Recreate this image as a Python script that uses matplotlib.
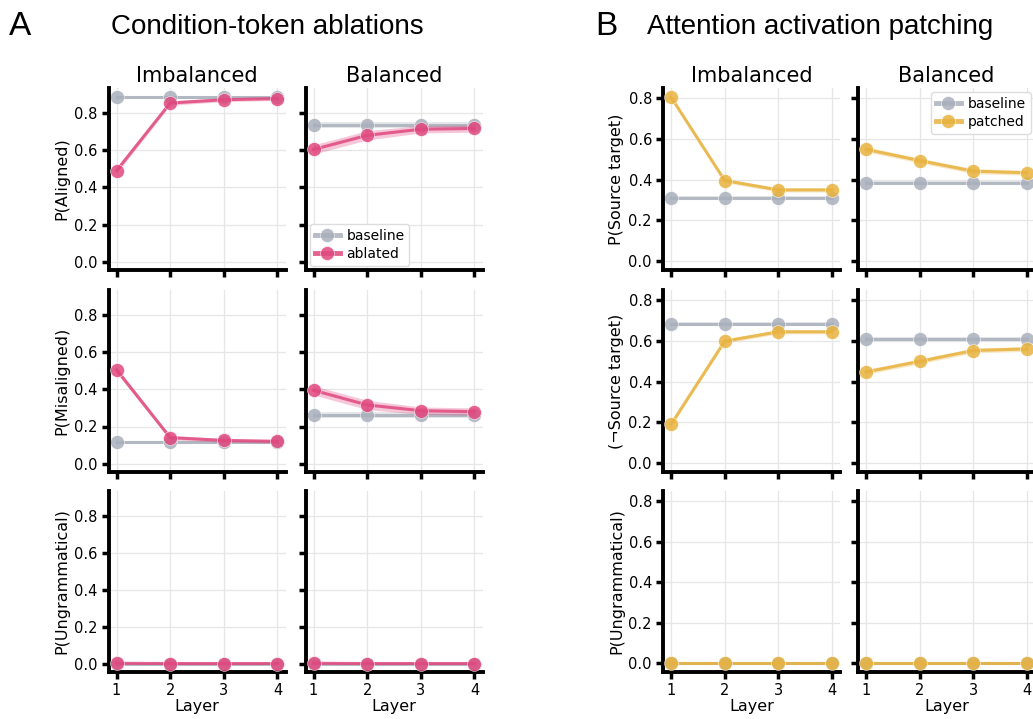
import numpy as np
import matplotlib
matplotlib.use("Agg")
import matplotlib.pyplot as plt
from matplotlib.lines import Line2D

W, H = 1033, 719

layers = [1, 2, 3, 4]
conditions = ["Imbalanced", "Balanced"]

# Panel A: condition-token ablations
a_labels = ["P(Aligned)", "P(Misaligned)", "P(Ungrammatical)"]
a_base = {
    "Imbalanced": [[0.884, 0.884, 0.884, 0.884],
                   [0.115, 0.115, 0.115, 0.115],
                   [0.001, 0.001, 0.001, 0.001]],
    "Balanced": [[0.736, 0.736, 0.736, 0.736],
                 [0.263, 0.263, 0.263, 0.263],
                 [0.001, 0.001, 0.001, 0.001]],
}
a_base_ci = {
    "Imbalanced": [0.008, 0.008, 0.002],
    "Balanced": [0.015, 0.015, 0.002],
}
a_abl = {
    "Imbalanced": [[0.490, 0.854, 0.872, 0.878],
                   [0.505, 0.140, 0.125, 0.120],
                   [0.002, 0.001, 0.001, 0.001]],
    "Balanced": [[0.604, 0.680, 0.713, 0.717],
                 [0.395, 0.316, 0.285, 0.280],
                 [0.002, 0.001, 0.001, 0.001]],
}
a_abl_ci = {
    "Imbalanced": [[0.015, 0.012, 0.010, 0.010],
                   [0.015, 0.012, 0.010, 0.010],
                   [0.002, 0.001, 0.001, 0.001]],
    "Balanced": [[0.025, 0.025, 0.020, 0.020],
                 [0.025, 0.025, 0.020, 0.020],
                 [0.002, 0.001, 0.001, 0.001]],
}

# Panel B: attention activation patching
b_labels = ["P(Source target)", "(\u00acSource target)", "P(Ungrammatical)"]
b_base = {
    "Imbalanced": [[0.311, 0.311, 0.311, 0.311],
                   [0.683, 0.683, 0.683, 0.683],
                   [0.003, 0.003, 0.003, 0.003]],
    "Balanced": [[0.385, 0.385, 0.385, 0.385],
                 [0.609, 0.609, 0.609, 0.609],
                 [0.003, 0.003, 0.003, 0.003]],
}
b_base_ci = {
    "Imbalanced": [0.008, 0.008, 0.002],
    "Balanced": [0.008, 0.008, 0.002],
}
b_pat = {
    "Imbalanced": [[0.805, 0.396, 0.350, 0.350],
                   [0.191, 0.599, 0.645, 0.645],
                   [0.003, 0.003, 0.003, 0.003]],
    "Balanced": [[0.549, 0.494, 0.442, 0.434],
                 [0.448, 0.500, 0.553, 0.561],
                 [0.003, 0.003, 0.003, 0.003]],
}
b_pat_ci = {
    "Imbalanced": [[0.010, 0.010, 0.010, 0.010],
                   [0.010, 0.010, 0.010, 0.010],
                   [0.002, 0.002, 0.002, 0.002]],
    "Balanced": [[0.012, 0.012, 0.012, 0.012],
                 [0.012, 0.012, 0.012, 0.012],
                 [0.002, 0.002, 0.002, 0.002]],
}

GRAY = "#A9B0BC"
PINK = "#E0487E"
GOLD = "#E8B23E"

rows_px = [(88, 270), (290, 472), (491, 672)]
cols_a = [(108.5, 285.5), (305.5, 482.5)]
cols_b = [(663, 840), (858, 1035)]

plt.rcParams["font.family"] = "DejaVu Sans"

fig = plt.figure(figsize=(W / 100, H / 100), dpi=100)


def add_ax(l, t, r, b):
    return fig.add_axes([l / W, 1 - b / H, (r - l) / W, (b - t) / H])


def draw_series(ax, y, ci, color, z):
    y = np.asarray(y)
    ci = np.asarray(ci)
    ax.fill_between(layers, y - ci, y + ci, color=color, alpha=0.3, lw=0, zorder=z)
    ax.plot(layers, y, color=color, lw=2.2, alpha=0.85, zorder=z + 0.5,
            marker="o", ms=10, mfc=color, mec="white", mew=0.4)


def style_ax(ax, row, col, ylim, ylabel):
    ax.set_xlim(0.85, 4.15)
    ax.set_ylim(*ylim)
    ax.set_xticks(layers)
    ax.set_yticks([0.0, 0.2, 0.4, 0.6, 0.8])
    ax.grid(True, color="#e6e6e6", lw=0.9, zorder=0)
    ax.set_axisbelow(True)
    for s in ["top", "right"]:
        ax.spines[s].set_visible(False)
    for s in ["left", "bottom"]:
        ax.spines[s].set_linewidth(2.8)
    ax.tick_params(width=2.5, length=5, labelsize=10.5, pad=3)
    if row == 2:
        ax.set_xlabel("Layer", fontsize=11.5, labelpad=1)
    else:
        ax.tick_params(axis="x", labelbottom=False)
    if col == 0:
        ax.set_ylabel(ylabel, fontsize=11.5, labelpad=3)
    else:
        ax.tick_params(axis="y", labelleft=False)
    if row == 0:
        ax.set_title(conditions[col], fontsize=15, pad=4)


def panel(cols, labels, base, base_ci, other, other_ci, color, ylim, name, legend_loc):
    for r in range(3):
        for c, cond in enumerate(conditions):
            ax = add_ax(cols[c][0], rows_px[r][0], cols[c][1], rows_px[r][1])
            draw_series(ax, base[cond][r], [base_ci[cond][r]] * 4, GRAY, 2)
            draw_series(ax, other[cond][r], other_ci[cond][r], color, 3)
            style_ax(ax, r, c, ylim, labels[r])
            if r == 0 and c == 1:
                handles = [
                    Line2D([], [], color=GRAY, lw=3.5, alpha=0.85, marker="o", ms=10, mec="white", mew=0.4),
                    Line2D([], [], color=color, lw=3.5, alpha=0.85, marker="o", ms=10, mec="white", mew=0.4),
                ]
                ax.legend(handles, ["baseline", name], loc=legend_loc, fontsize=10,
                          handlelength=1.8, handletextpad=0.5, borderpad=0.35,
                          labelspacing=0.3, framealpha=1, edgecolor="#dddddd",
                          borderaxespad=0.3)


panel(cols_a, a_labels, a_base, a_base_ci, a_abl, a_abl_ci, PINK,
      (-0.045, 0.935), "ablated", "lower left")
panel(cols_b, b_labels, b_base, b_base_ci, b_pat, b_pat_ci, GOLD,
      (-0.043, 0.85), "patched", "upper right")

hfont = ["Liberation Sans", "DejaVu Sans"]
fig.text(9 / W, 1 - 35 / H, "A", fontsize=24, family=hfont, va="baseline")
fig.text(267.5 / W, 1 - 34 / H, "Condition-token ablations", fontsize=20, family=hfont,
         ha="center", va="baseline")
fig.text(595 / W, 1 - 35 / H, "B", fontsize=24, family=hfont, va="baseline")
fig.text(820 / W, 1 - 34 / H, "Attention activation patching", fontsize=20, family=hfont,
         ha="center", va="baseline")

fig.savefig("out.png", dpi=100)
